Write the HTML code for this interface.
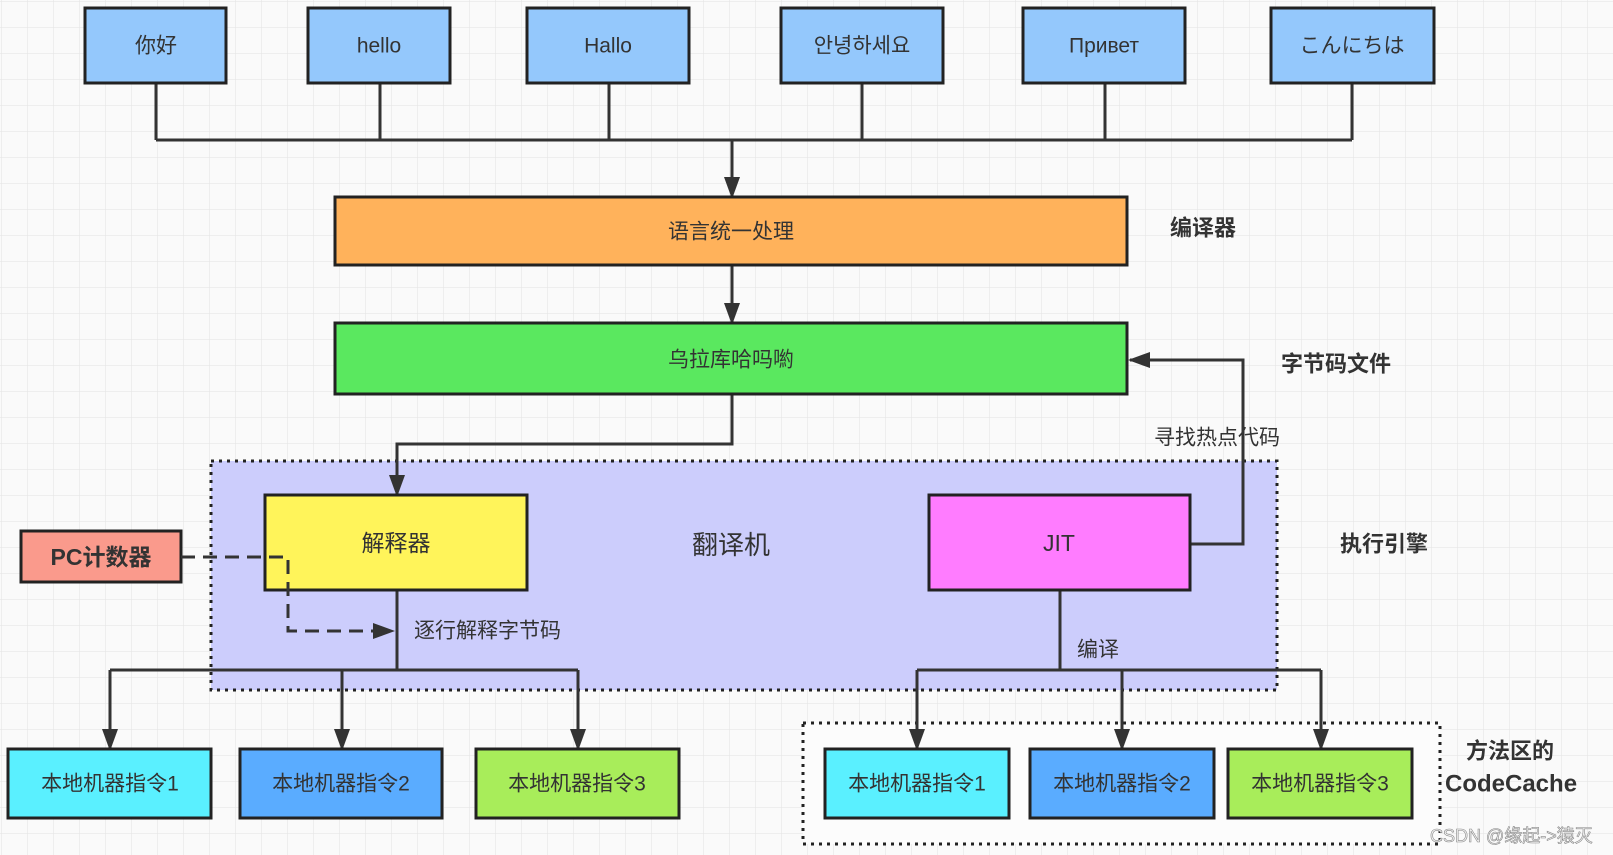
<!DOCTYPE html>
<html><head><meta charset="utf-8"><style>
html,body{margin:0;padding:0;background:#fafafa}
svg{display:block}
text{font-family:"Liberation Sans","Noto Sans CJK SC",sans-serif;fill:#333}
</style></head><body>
<svg width="1613" height="855" viewBox="0 0 1613 855" xmlns="http://www.w3.org/2000/svg">
<defs>
<pattern id="g" width="26" height="26" patternUnits="userSpaceOnUse" x="2" y="2">
<path d="M26 0V26M0 26H26" fill="none" stroke="#e6e6e6" stroke-width="1.2"/>
</pattern>
<marker id="b" markerWidth="22" markerHeight="16" refX="20" refY="8" orient="auto" markerUnits="userSpaceOnUse" viewBox="0 0 22 16">
<path d="M0 0L22 8L0 16z" fill="#333"/>
</marker>
</defs>
<rect width="1613" height="855" fill="#fafafa"/>
<rect width="1613" height="855" fill="url(#g)"/>
<rect x="211" y="461" width="1066" height="229" fill="#cccdfc" stroke="#222" stroke-width="3" stroke-dasharray="3 5"/>
<rect x="803" y="723" width="637" height="121" fill="#fcfcfc" stroke="#222" stroke-width="3" stroke-dasharray="3 5"/>
<g stroke="#333" stroke-width="3" fill="none">
<path d="M156 83V140M380 83V140M609 83V140M862 83V140M1105 83V140M1352 83V140M156 140H1352"/>
<path d="M732 140V197" marker-end="url(#b)"/>
<path d="M732 265V323" marker-end="url(#b)"/>
<path d="M732 394V444H397V495" marker-end="url(#b)"/>
<path d="M1190 544H1243V360H1130" marker-end="url(#b)"/>
<path d="M397 590V670M110 670H578"/>
<path d="M110 670V749" marker-end="url(#b)"/>
<path d="M342 670V749" marker-end="url(#b)"/>
<path d="M578 670V749" marker-end="url(#b)"/>
<path d="M1060 590V670M917 670H1321"/>
<path d="M917 670V749" marker-end="url(#b)"/>
<path d="M1122 670V749" marker-end="url(#b)"/>
<path d="M1321 670V749" marker-end="url(#b)"/>
</g>
<g stroke="#222" stroke-width="3">
<rect x="85" y="8" width="141" height="75" fill="#94c8fc"/>
<rect x="308" y="8" width="142" height="75" fill="#94c8fc"/>
<rect x="527" y="8" width="162" height="75" fill="#94c8fc"/>
<rect x="781" y="8" width="162" height="75" fill="#94c8fc"/>
<rect x="1023" y="8" width="162" height="75" fill="#94c8fc"/>
<rect x="1271" y="8" width="163" height="75" fill="#94c8fc"/>
<rect x="335" y="197" width="792" height="68" fill="#ffb25b"/>
<rect x="335" y="323" width="792" height="71" fill="#5ae85f"/>
<rect x="265" y="495" width="262" height="95" fill="#fff45a"/>
<rect x="929" y="495" width="261" height="95" fill="#ff7cff"/>
<rect x="21" y="531" width="160" height="51" fill="#fa9a8c"/>
<rect x="8" y="749" width="203" height="69" fill="#5af0ff"/>
<rect x="240" y="749" width="202" height="69" fill="#5aacff"/>
<rect x="476" y="749" width="203" height="69" fill="#a8ed5a"/>
<rect x="825" y="749" width="184" height="69" fill="#5af0ff"/>
<rect x="1030" y="749" width="184" height="69" fill="#5aacff"/>
<rect x="1228" y="749" width="184" height="69" fill="#a8ed5a"/>
</g>
<path d="M181 557H288V631H393" stroke="#333" stroke-width="3" fill="none" stroke-dasharray="14 8" marker-end="url(#b)"/>
<g font-size="21" text-anchor="middle" dominant-baseline="central">
<text x="156" y="46">你好</text>
<text x="379" y="46">hello</text>
<text x="608" y="46">Hallo</text>
<text x="862" y="46">안녕하세요</text>
<text x="1104" y="46">Привет</text>
<text x="1352" y="46">こんにちは</text>
<text x="731" y="232">语言统一处理</text>
<text x="731" y="360">乌拉库哈吗喲</text>
<text x="396" y="543" font-size="23">解释器</text>
<text x="1059" y="543" font-size="23">JIT</text>
<text x="731" y="545" font-size="26">翻译机</text>
<text x="110" y="784">本地机器指令1</text>
<text x="341" y="784">本地机器指令2</text>
<text x="577" y="784">本地机器指令3</text>
<text x="917" y="784">本地机器指令1</text>
<text x="1122" y="784">本地机器指令2</text>
<text x="1320" y="784">本地机器指令3</text>
<text x="101" y="557" font-weight="bold" font-size="23">PC计数器</text>
</g>
<g font-size="21" dominant-baseline="central">
<text x="1154" y="438">寻找热点代码</text>
<text x="414" y="631">逐行解释字节码</text>
<text x="1077" y="650">编译</text>
</g>
<g font-size="22" font-weight="bold" dominant-baseline="central">
<text x="1170" y="228">编译器</text>
<text x="1281" y="364">字节码文件</text>
<text x="1340" y="544">执行引擎</text>
<text x="1466" y="751">方法区的</text>
<text x="1445" y="784" font-size="24">CodeCache</text>
</g>
<text x="1430" y="836" font-size="18" style="fill:#f4f4f4;stroke:#888;stroke-width:0.6" dominant-baseline="central">CSDN @缘起-&gt;猿灭</text>
</svg>
</body></html>
